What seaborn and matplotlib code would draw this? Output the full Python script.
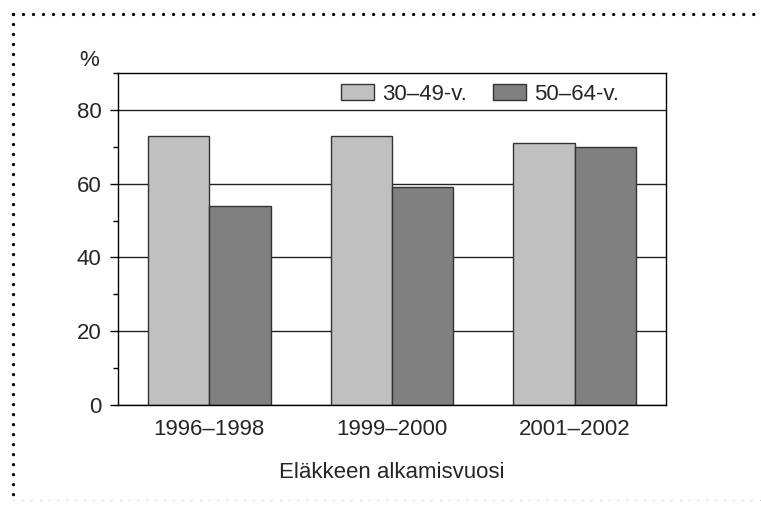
import numpy as np
import pandas as pd
import matplotlib
matplotlib.use("Agg")
import matplotlib.pyplot as plt
from matplotlib.lines import Line2D
from matplotlib.ticker import MultipleLocator
import seaborn as sns

# Data
periods = ["1996–1998", "1999–2000", "2001–2002"]
groups = ["30–49-v.", "50–64-v."]
young = [73, 73, 71]
old = [54, 59, 70]

df = pd.DataFrame({
    "period": periods * 2,
    "group": [groups[0]] * 3 + [groups[1]] * 3,
    "value": young + old,
})

sns.set_theme(style="white")
plt.rcParams["font.family"] = ["Liberation Sans", "DejaVu Sans"]

FS = 16

fig = plt.figure(figsize=(7.61, 5.08), dpi=100)
ax = fig.add_axes([118 / 761, 1 - 405 / 508, 548 / 761, 332 / 508])

sns.barplot(data=df, x="period", y="value", hue="group", ax=ax,
            palette=["#c0c0c0", "#808080"], width=0.67, gap=0,
            edgecolor="#333333", linewidth=1, saturation=1, errorbar=None)

ax.set_xlim(-0.5, 2.5)
ax.set_ylim(0, 90)
ax.set_axisbelow(True)
ax.yaxis.set_major_locator(MultipleLocator(20))
ax.yaxis.set_minor_locator(MultipleLocator(10))
ax.grid(axis="y", which="major", color="#222222", linewidth=1)
ax.grid(axis="x", visible=False)
ax.tick_params(axis="y", which="major", direction="out", length=6, width=1,
               color="black", labelsize=FS, pad=6, left=True)
ax.tick_params(axis="y", which="minor", direction="out", length=3.5, width=1,
               color="black", left=True)
ax.tick_params(axis="x", length=0, labelsize=FS, pad=10)
for s in ax.spines.values():
    s.set_visible(True)
    s.set_color("black")
    s.set_linewidth(1)
ax.set_ylabel("")
ax.set_xlabel("Eläkkeen alkamisvuosi", fontsize=FS, labelpad=16)

ax.legend(loc="center", bbox_to_anchor=(0.66, 0.936), ncol=2, frameon=False,
          fontsize=FS, handlelength=1.49, handleheight=0.77,
          handletextpad=0.36, columnspacing=1.17, borderpad=0)

fig.text(89.5 / 761, 1 - 60 / 508, "%", fontsize=FS, ha="center", va="center")

# dotted frame around the figure
fig.add_artist(Line2D([13 / 761, 1], [1 - 14 / 508, 1 - 14 / 508], color="black",
                      lw=2.4, linestyle=(0, (0.001, 3.0)), dash_capstyle="round"))
fig.add_artist(Line2D([13 / 761, 13 / 761], [1 - 14 / 508, 1 - 500 / 508], color="black",
                      lw=2.4, linestyle=(0, (0.001, 3.0)), dash_capstyle="round"))
fig.add_artist(Line2D([13 / 761, 1], [1 - 500 / 508, 1 - 500 / 508], color="#bbbbbb",
                      lw=0.8, linestyle=(0, (1, 7))))

fig.savefig("out.png", dpi=100)
